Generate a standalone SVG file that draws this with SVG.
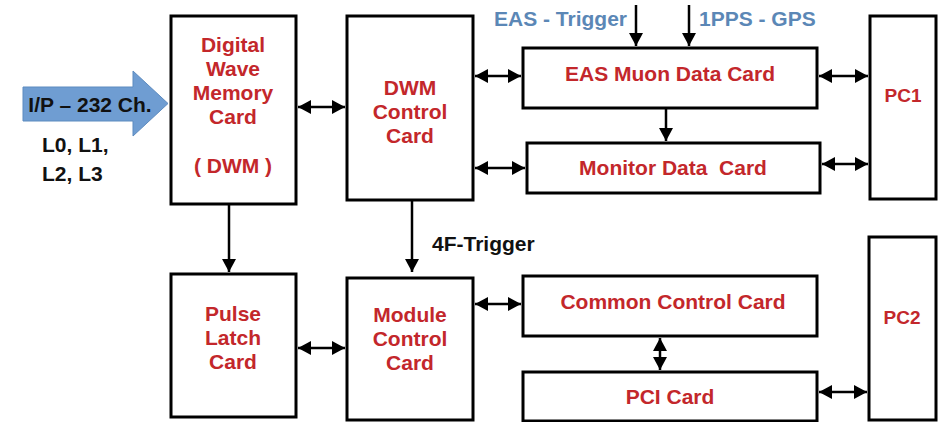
<svg xmlns="http://www.w3.org/2000/svg" width="947" height="422" viewBox="0 0 947 422">
<style>
.box{fill:#fff;stroke:#000;stroke-width:3}
.t{font-family:"Liberation Sans",Arial,sans-serif;font-weight:bold;font-size:21px;fill:#c3272b;text-anchor:middle;white-space:pre}
.s{font-size:19px}
.k{font-family:"Liberation Sans",Arial,sans-serif;font-weight:bold;font-size:21px;fill:#111}
.b{font-family:"Liberation Sans",Arial,sans-serif;font-weight:bold;font-size:21px;fill:#5b87b6}
.c{stroke:#000;stroke-width:2.5;fill:none}
.d{marker-end:url(#ah)}
.dd{marker-start:url(#ah);marker-end:url(#ah)}
</style>
<defs>
<marker id="ah" markerUnits="userSpaceOnUse" markerWidth="14" markerHeight="15" refX="13" refY="7.5" orient="auto-start-reverse">
<path d="M0,0.5 L13,7.5 L0,14.5 z" fill="#000"/>
</marker>
</defs>
<rect width="947" height="422" fill="#fff"/>

<g id="input">
<path d="M23,87 H133 V71 L168,103.5 L133,136 V121 H23 z" fill="#6f9dd2" stroke="#5d8bbf" stroke-width="1"/>
<text class="k" x="90" y="112" text-anchor="middle">I/P – 232 Ch.</text>
<text class="k" x="42" y="152">L0, L1,</text>
<text class="k" x="42" y="181">L2, L3</text>
</g>

<g id="dwm">
<rect class="box" x="171" y="16" width="125" height="188"/>
<text class="t" x="233" y="52">Digital</text>
<text class="t" x="233" y="76">Wave</text>
<text class="t" x="233" y="100">Memory</text>
<text class="t" x="233" y="124">Card</text>
<text class="t" x="233" y="173">( DWM )</text>
</g>

<g id="dwmctrl">
<rect class="box" x="347" y="16" width="126" height="184"/>
<text class="t" x="410" y="95">DWM</text>
<text class="t" x="410" y="119">Control</text>
<text class="t" x="410" y="143">Card</text>
</g>

<g id="easmuon">
<rect class="box" x="523" y="48" width="294" height="60"/>
<text class="t" x="670" y="81">EAS Muon Data Card</text>
</g>

<g id="monitor">
<rect class="box" x="527" y="143" width="293" height="50"/>
<text class="t" x="673" y="175">Monitor Data  Card</text>
</g>

<g id="pc1">
<rect class="box" x="870" y="16" width="66" height="183"/>
<text class="t s" x="903" y="102">PC1</text>
</g>

<g id="pulse">
<rect class="box" x="171" y="274" width="125" height="143"/>
<text class="t" x="233" y="321">Pulse</text>
<text class="t" x="233" y="345">Latch</text>
<text class="t" x="233" y="369">Card</text>
</g>

<g id="module">
<rect class="box" x="347" y="278" width="126" height="142"/>
<text class="t" x="410" y="322">Module</text>
<text class="t" x="410" y="346">Control</text>
<text class="t" x="410" y="370">Card</text>
</g>

<g id="common">
<rect class="box" x="523" y="276" width="294" height="60"/>
<text class="t" x="673" y="309">Common Control Card</text>
</g>

<g id="pci">
<rect class="box" x="523" y="372" width="294" height="49"/>
<text class="t" x="670" y="404">PCI Card</text>
</g>

<g id="pc2">
<rect class="box" x="869" y="237" width="67" height="183"/>
<text class="t s" x="902" y="324">PC2</text>
</g>

<g id="labels">
<text class="b" x="494" y="26">EAS - Trigger</text>
<text class="b" x="699" y="26">1PPS - GPS</text>
<text class="k" x="432" y="251">4F-Trigger</text>
</g>

<g id="connectors">
<line class="c dd" x1="298" y1="107" x2="345" y2="107"/>
<line class="c dd" x1="475" y1="76" x2="521" y2="76"/>
<line class="c dd" x1="475" y1="168" x2="525" y2="168"/>
<line class="c dd" x1="819" y1="76" x2="868" y2="76"/>
<line class="c dd" x1="822" y1="164" x2="868" y2="164"/>
<line class="c d" x1="666" y1="108" x2="666" y2="141"/>
<line class="c d" x1="636" y1="5" x2="636" y2="46"/>
<line class="c d" x1="689" y1="5" x2="689" y2="46"/>
<line class="c d" x1="229" y1="204" x2="229" y2="272"/>
<line class="c d" x1="412" y1="200" x2="412" y2="272"/>
<line class="c dd" x1="298" y1="348" x2="345" y2="348"/>
<line class="c dd" x1="475" y1="304" x2="521" y2="304"/>
<line class="c dd" x1="660" y1="338" x2="660" y2="370"/>
<line class="c dd" x1="819" y1="392" x2="867" y2="392"/>
</g>
</svg>
